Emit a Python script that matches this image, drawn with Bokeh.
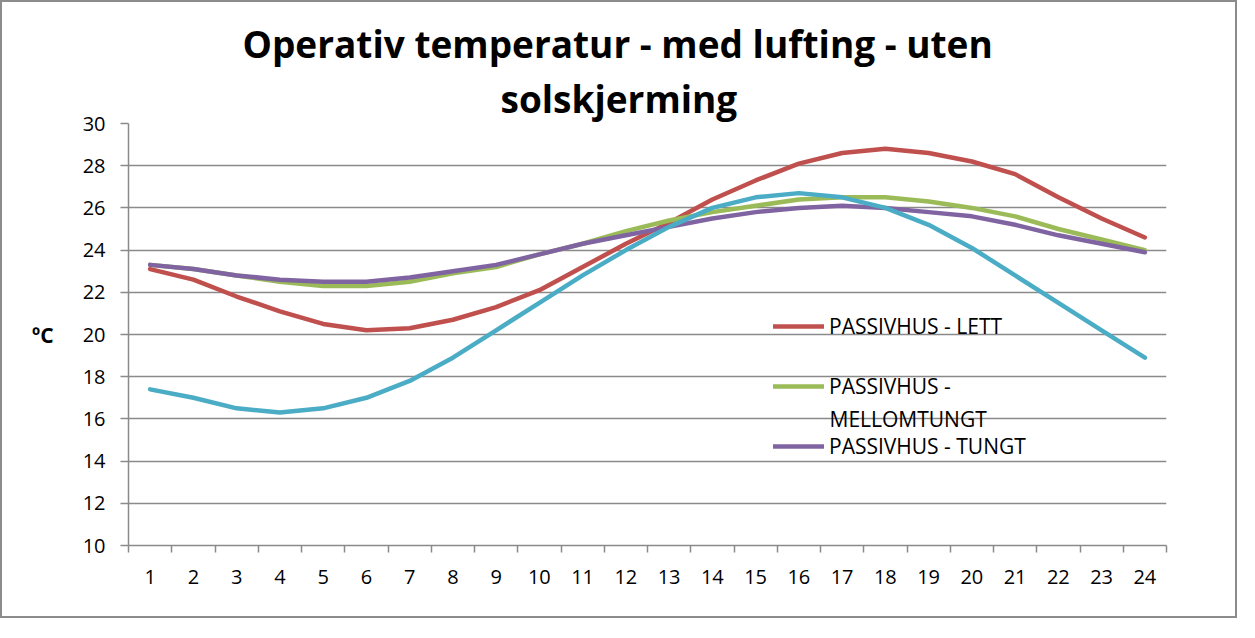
from bokeh.plotting import figure
from bokeh.models import (Range1d, FixedTicker, Legend, LegendItem, Label, Title)
from bokeh.embed import file_html
from bokeh.resources import INLINE

hours = list(range(1, 25))
y_ticks = [10, 12, 14, 16, 18, 20, 22, 24, 26, 28, 30]

lett = [23.1, 22.6, 21.8, 21.1, 20.5, 20.2, 20.3, 20.7, 21.3, 22.1, 23.2, 24.3,
        25.3, 26.4, 27.3, 28.1, 28.6, 28.8, 28.6, 28.2, 27.6, 26.5, 25.5, 24.6]
mellomtungt = [23.3, 23.1, 22.8, 22.5, 22.3, 22.3, 22.5, 22.9, 23.2, 23.8, 24.3, 24.9,
               25.4, 25.8, 26.1, 26.4, 26.5, 26.5, 26.3, 26.0, 25.6, 25.0, 24.5, 24.0]
tungt = [23.3, 23.1, 22.8, 22.6, 22.5, 22.5, 22.7, 23.0, 23.3, 23.8, 24.3, 24.7,
         25.1, 25.5, 25.8, 26.0, 26.1, 26.0, 25.8, 25.6, 25.2, 24.7, 24.3, 23.9]
fjerde = [17.4, 17.0, 16.5, 16.3, 16.5, 17.0, 17.8, 18.9, 20.2, 21.5, 22.8, 24.0,
          25.1, 26.0, 26.5, 26.7, 26.5, 26.0, 25.2, 24.1, 22.8, 21.5, 20.2, 18.9]

legend_labels = ["PASSIVHUS - LETT", "PASSIVHUS -", "PASSIVHUS - TUNGT"]
legend_wrap = "MELLOMTUNGT"
colors = ["#C0504D", "#9BBB59", "#8064A2", "#4BACC6"]
title_lines = ["Operativ temperatur - med lufting - uten", "solskjerming"]

FONT = "Open Sans"
GRID = "#8a8a8a"

p = figure(width=1237, height=618, output_backend="svg", toolbar_location=None,
           x_range=Range1d(0.5, 24.5), y_range=Range1d(10, 30),
           min_border_left=126, min_border_right=73, min_border_top=121,
           min_border_bottom=75)
p.styles = {"border": "2px solid #8c8c8c"}
p.outline_line_color = None

p.add_layout(Title(text=title_lines[1], align="left", offset=372, text_font=FONT,
                   text_font_size="37px", text_font_style="bold",
                   text_color="black", standoff=0), "above")
p.add_layout(Title(text=title_lines[0], align="left", offset=114,
                   text_font=FONT, text_font_size="37px", text_font_style="bold",
                   text_color="black", standoff=4), "above")

renderers = []
for ys, c in zip([lett, mellomtungt, tungt, fjerde], colors):
    r = p.line(hours, ys, line_color=c, line_width=4.5, line_cap="round",
               line_join="round")
    renderers.append(r)

# axes
p.xaxis.ticker = FixedTicker(ticks=hours, minor_ticks=[h - 0.5 for h in hours] + [24.5])
p.yaxis.ticker = FixedTicker(ticks=y_ticks, minor_ticks=[])
for ax in (p.xaxis[0], p.yaxis[0]):
    ax.axis_line_color = GRID
    ax.axis_line_width = 1.5
    ax.major_label_text_font = FONT
    ax.major_label_text_font_size = "20px"
    ax.major_label_text_color = "black"
    ax.major_tick_line_color = GRID
    ax.major_tick_line_width = 1.5
    ax.minor_tick_line_color = GRID
    ax.minor_tick_line_width = 1.5
p.xaxis.major_tick_out = 0
p.xaxis.major_tick_in = 0
p.xaxis.minor_tick_out = 7
p.xaxis.minor_tick_in = 0
p.xaxis.major_label_standoff = 17
p.yaxis.major_tick_out = 8
p.yaxis.major_tick_in = 0
p.yaxis.minor_tick_out = 0
p.yaxis.minor_tick_in = 0
p.yaxis.major_label_standoff = 15

p.yaxis.axis_label = "ºC"
p.yaxis.axis_label_text_font = FONT
p.yaxis.axis_label_text_font_size = "21px"
p.yaxis.axis_label_text_font_style = "bold"
p.yaxis.axis_label_text_color = "black"
p.yaxis.axis_label_standoff = 26
if "axis_label_orientation" in p.yaxis[0].properties():
    p.yaxis.axis_label_orientation = "horizontal"

p.xgrid.grid_line_color = None
p.ygrid.grid_line_color = GRID
p.ygrid.grid_line_width = 1.5

legend = Legend(items=[LegendItem(label=l, renderers=[r])
                       for l, r in zip(legend_labels, renderers[:3])],
                location=(645, 84), border_line_color=None, background_fill_alpha=0,
                label_text_font=FONT, label_text_font_size="21px",
                label_text_color="black",
                label_height=30, glyph_height=20, glyph_width=51,
                spacing=30, padding=0, margin=0, label_standoff=5)
p.add_layout(legend)
p.add_layout(Label(x=701, y=127, x_units="screen", y_units="screen",
                   text=legend_wrap, text_font=FONT, text_font_size="21px",
                   text_baseline="middle", text_color="black"))

open("out.html", "w").write(file_html(p, INLINE))
